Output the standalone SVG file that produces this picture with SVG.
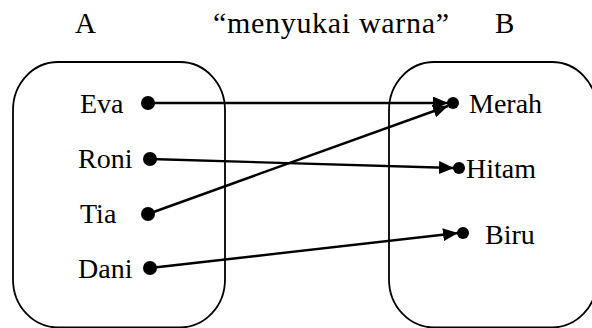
<svg xmlns="http://www.w3.org/2000/svg" width="592" height="328" viewBox="0 0 592 328">
<defs>
<marker id="arr" viewBox="0 0 15 13" refX="15" refY="6.5" markerWidth="15" markerHeight="13" markerUnits="userSpaceOnUse" orient="auto">
<path d="M0,0 L15,6.5 L0,13 Z" fill="#000"/>
</marker>
</defs>
<style>
text{font-family:"Liberation Serif","Times New Roman",serif;font-size:28px;fill:#000}
.title{font-size:29px}
.box{fill:none;stroke:#000;stroke-width:1.8}
.dot{fill:#000}
.edge{stroke:#000;stroke-width:2.4;fill:none;marker-end:url(#arr)}
</style>
<rect width="592" height="328" fill="#fff"/>
<g id="titles">
<text class="title" x="75" y="33">A</text>
<text class="title" x="213" y="33" style="font-size:30px" textLength="236" lengthAdjust="spacing">“menyukai warna”</text>
<text class="title" x="495" y="33">B</text>
</g>
<g id="setA">
<rect class="box" x="13" y="62" width="212" height="265.5" rx="45" ry="48"/>
</g>
<g id="setB">
<rect class="box" x="389" y="62" width="208" height="265.5" rx="45" ry="48"/>
</g>
<g id="eva"><text x="80" y="113">Eva</text><circle class="dot" cx="148" cy="103" r="7"/></g>
<g id="roni"><text x="78" y="168">Roni</text><circle class="dot" cx="150" cy="159" r="7"/></g>
<g id="tia"><text x="80" y="223">Tia</text><circle class="dot" cx="148" cy="214" r="7"/></g>
<g id="dani"><text x="78" y="278">Dani</text><circle class="dot" cx="150" cy="268" r="7"/></g>
<g id="merah"><circle class="dot" cx="453" cy="103" r="6"/><text x="469" y="113">Merah</text></g>
<g id="hitam"><circle class="dot" cx="459" cy="168" r="6"/><text x="466" y="178">Hitam</text></g>
<g id="biru"><circle class="dot" cx="463" cy="233" r="6"/><text x="485" y="244">Biru</text></g>
<g id="connectors">
<line class="edge" x1="148" y1="103" x2="448" y2="103"/>
<line class="edge" x1="150" y1="159" x2="454" y2="168"/>
<line class="edge" x1="148" y1="214" x2="448" y2="106"/>
<line class="edge" x1="150" y1="268" x2="458" y2="233"/>
</g>
</svg>
